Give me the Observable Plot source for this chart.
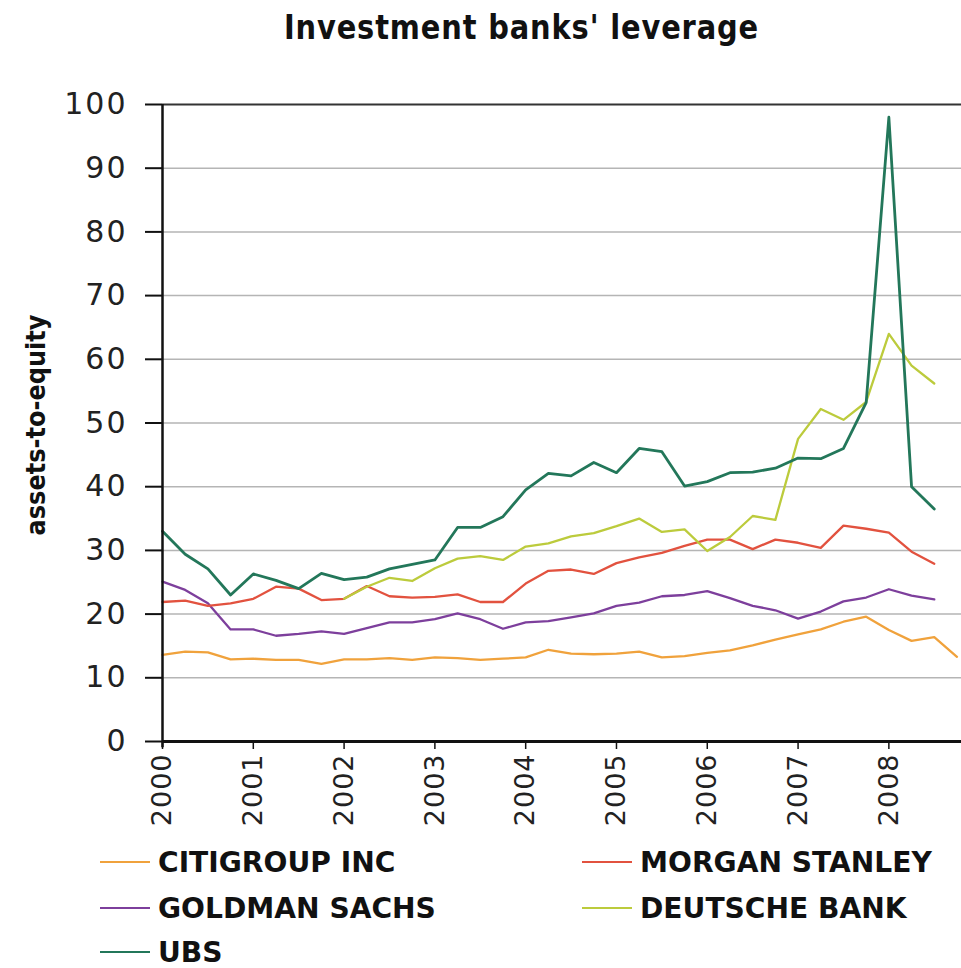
<!DOCTYPE html>
<html>
<head>
<meta charset="utf-8">
<script src="https://cdn.jsdelivr.net/npm/d3@7"></script>
<script src="https://cdn.jsdelivr.net/npm/@observablehq/plot@0.6"></script>
<style>
  html, body { margin: 0; padding: 0; background: #fff; }
  #wrap { width: 961px; height: 968px; position: relative; overflow: hidden; }
  .cond { font-family: "DejaVu Sans", Verdana, sans-serif; font-weight: bold; color: #111; line-height: 1; }
  #title { position: absolute; left: 0; width: 1042px; top: 10px; text-align: center; font-size: 34px; letter-spacing: 1px; }
  #title span { display: inline-block; transform: scaleX(0.85); }
  #chart { position: absolute; left: 0; top: 60px; }
  #ylab { position: absolute; left: 35px; top: 425px; transform: translate(-50%, -50%) rotate(-90deg) scaleX(0.89); font-size: 27px; white-space: nowrap; }
  .leg { position: absolute; display: flex; align-items: center; font-size: 29px; white-space: nowrap; height: 30px; }
  .leg .sw { width: 50px; height: 2px; margin-right: 8px; }
  .leg span { display: inline-block; transform: scaleX(0.97); transform-origin: left center; }
  #chart g[aria-label="y-axis tick label"] text { letter-spacing: 2px; }
  #chart g[aria-label="x-axis tick label"] text { letter-spacing: 1px; }
</style>
</head>
<body>
<div id="wrap">
  <div id="title" class="cond"><span>Investment banks' leverage</span></div>
  <div id="chart"></div>
  <div id="ylab" class="cond">assets-to-equity</div>
  <div id="legend"></div>
</div>
<script>
// ---- data (quarterly, assets-to-equity) ----
const yearTicks = [2000, 2001, 2002, 2003, 2004, 2005, 2006, 2007, 2008];
const yTicks = [0, 10, 20, 30, 40, 50, 60, 70, 80, 90, 100];
const banks = ["CITIGROUP INC", "MORGAN STANLEY", "GOLDMAN SACHS", "DEUTSCHE BANK", "UBS"];
const bankColors = ["#f0a23c", "#e2523f", "#7d3f9c", "#bccb3c", "#23775a"];

// first quarter of each series (decimal year), step = one quarter
const startCiti = 2000, startMorgan = 2000, startGoldman = 2000, startDeutsche = 2002, startUbs = 2000;

const citigroup = [13.6, 14.1, 14.0, 12.9, 13.0, 12.8, 12.8, 12.2, 12.9, 12.9, 13.1, 12.8,
  13.2, 13.1, 12.8, 13.0, 13.2, 14.4, 13.8, 13.7, 13.8, 14.1, 13.2, 13.4,
  13.9, 14.3, 15.1, 16.0, 16.8, 17.6, 18.8, 19.6, 17.5, 15.8, 16.4, 13.3];
const morganStanley = [21.9, 22.1, 21.3, 21.7, 22.4, 24.3, 24.0, 22.2, 22.4, 24.4, 22.8, 22.6,
  22.7, 23.1, 21.9, 21.9, 24.8, 26.8, 27.0, 26.3, 28.0, 28.9, 29.6, 30.7,
  31.7, 31.7, 30.2, 31.7, 31.2, 30.4, 33.9, 33.4, 32.8, 29.8, 27.9];
const goldmanSachs = [25.1, 23.8, 21.7, 17.6, 17.6, 16.6, 16.9, 17.3, 16.9, 17.8, 18.7, 18.7,
  19.2, 20.1, 19.2, 17.7, 18.7, 18.9, 19.5, 20.1, 21.3, 21.8, 22.8, 23.0,
  23.6, 22.5, 21.3, 20.6, 19.3, 20.4, 22.0, 22.6, 23.9, 22.9, 22.3];
const deutscheBank = [22.4, 24.3, 25.7, 25.2,
  27.2, 28.7, 29.1, 28.5, 30.6, 31.1, 32.2, 32.7, 33.8, 35.0, 32.9, 33.3,
  29.9, 32.1, 35.4, 34.8, 47.5, 52.2, 50.5, 53.3, 64.0, 59.0, 56.2];
const ubs = [33.0, 29.4, 27.1, 23.0, 26.3, 25.3, 24.0, 26.4, 25.4, 25.8, 27.1, 27.8,
  28.5, 33.6, 33.6, 35.3, 39.5, 42.1, 41.7, 43.8, 42.2, 46.0, 45.5, 40.1,
  40.8, 42.2, 42.3, 42.9, 44.5, 44.4, 46.0, 53.2, 98.0, 40.0, 36.5];

const seriesList = [
  {bank: banks[0], start: startCiti, values: citigroup},
  {bank: banks[1], start: startMorgan, values: morganStanley},
  {bank: banks[2], start: startGoldman, values: goldmanSachs},
  {bank: banks[3], start: startDeutsche, values: deutscheBank},
  {bank: banks[4], start: startUbs, values: ubs}
];
const rows = seriesList.flatMap(s => s.values.map((v, i) => ({bank: s.bank, t: s.start + i / 4, v})));
const drawOrder = ["CITIGROUP INC", "GOLDMAN SACHS", "MORGAN STANLEY", "DEUTSCHE BANK", "UBS"];

const tickFont = "DejaVu Sans, Verdana, sans-serif";

const chart = Plot.plot({
  width: 961,
  height: 780,
  marginLeft: 162,
  marginRight: 0,
  marginTop: 44,
  marginBottom: 99,
  style: {fontFamily: tickFont, background: "white", color: "#222"},
  x: {domain: [2000, 2008.8]},
  y: {domain: [0, 100]},
  color: {domain: banks, range: bankColors},
  marks: [
    Plot.gridY(yTicks.filter(d => d > 0 && d < 100), {stroke: "#b5b5b5", strokeOpacity: 1, strokeWidth: 1.5}),
    Plot.axisY(yTicks, {tickSize: 17, tickPadding: 18, fontSize: 30, strokeWidth: 2, stroke: "#111", label: null}),
    Plot.axisX(yearTicks, {tickSize: 8, tickPadding: 4, tickRotate: -90, fontSize: 27, tickFormat: "d", strokeWidth: 1.5, stroke: "#111", label: null}),
    ...drawOrder.map(b => Plot.line(rows.filter(r => r.bank === b), {
      x: "t", y: "v", stroke: "bank", strokeWidth: b === "UBS" ? 2.8 : 2.3, curve: "linear"
    })),
    Plot.ruleY([100], {stroke: "#333", strokeWidth: 2}),
    Plot.ruleY([0], {stroke: "#111", strokeWidth: 3}),
    Plot.ruleX([2000], {y1: -1, y2: 100, stroke: "#111", strokeWidth: 2.5})
  ]
});
document.getElementById("chart").appendChild(chart);

// legend
const legendPos = [
  {bank: banks[0], left: 100, top: 862},
  {bank: banks[1], left: 582, top: 862},
  {bank: banks[2], left: 100, top: 908},
  {bank: banks[3], left: 582, top: 908},
  {bank: banks[4], left: 100, top: 952}
];
const legend = document.getElementById("legend");
legendPos.forEach(p => {
  const d = document.createElement("div");
  d.className = "leg cond";
  d.style.left = p.left + "px";
  d.style.top = (p.top - 15) + "px";
  const sw = document.createElement("div");
  sw.className = "sw";
  sw.style.background = bankColors[banks.indexOf(p.bank)];
  const tx = document.createElement("span");
  tx.textContent = p.bank;
  d.appendChild(sw); d.appendChild(tx);
  legend.appendChild(d);
});
</script>
</body>
</html>
